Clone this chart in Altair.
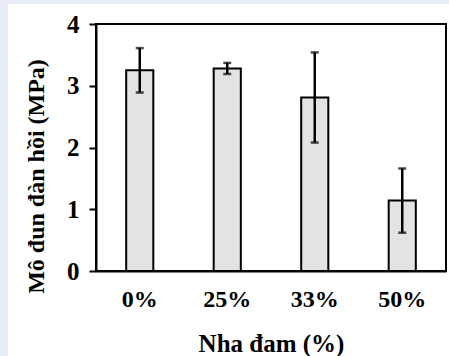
import altair as alt
import pandas as pd
import jinja2

categories = ["0%", "25%", "33%", "50%"]
values = [3.25, 3.28, 2.81, 1.14]
errors = [0.36, 0.09, 0.73, 0.52]

df = pd.DataFrame({"cat": categories, "val": values, "err": errors})

FONT = "Liberation Serif"

x_enc = alt.X(
    "cat:N",
    sort=categories,
    scale=alt.Scale(paddingInner=0.69, paddingOuter=0.345),
    axis=alt.Axis(
        title="Nha đam (%)",
        ticks=False,
        labelPadding=16,
        labelAngle=0,
        labelFont=FONT,
        labelFontSize=24,
        labelFontWeight="bold",
        labelColor="black",
        titleFont=FONT,
        titleFontSize=25,
        titleFontWeight="bold",
        titleColor="black",
        titleY=72,
        titleBaseline="middle",
        domainColor="black",
        domainWidth=2,
    ),
)

y_scale = alt.Scale(domain=[0, 4], nice=False)

base = alt.Chart(df).transform_calculate(
    lo="datum.val - datum.err", hi="datum.val + datum.err"
)

bars = base.mark_bar(fill="#e3e3e3", stroke="black", strokeWidth=2).encode(
    x=x_enc,
    y=alt.Y(
        "val:Q",
        scale=y_scale,
        axis=alt.Axis(
            title="Mô đun đàn hồi (MPa)",
            values=[0, 1, 2, 3, 4],
            format="d",
            grid=False,
            tickSize=7,
            tickWidth=2,
            tickColor="black",
            labelPadding=10,
            labelFont=FONT,
            labelFontSize=25,
            labelFontWeight="bold",
            labelColor="black",
            titleFont=FONT,
            titleFontSize=24,
            titleFontWeight="bold",
            titleColor="black",
            titleAngle=270,
            titleX=-60,
            titleY=152,
            titleAlign="center",
            titleBaseline="middle",
            domainColor="black",
            domainWidth=2,
        ),
    ),
)

rules = base.mark_rule(color="black", strokeWidth=2.5).encode(
    x=alt.X("cat:N", sort=categories),
    y=alt.Y("lo:Q", scale=y_scale),
    y2="hi:Q",
)

caps_hi = base.mark_tick(color="black", thickness=2.5, size=8).encode(
    x=alt.X("cat:N", sort=categories),
    y=alt.Y("hi:Q", scale=y_scale),
)
caps_lo = base.mark_tick(color="black", thickness=2.5, size=8).encode(
    x=alt.X("cat:N", sort=categories),
    y=alt.Y("lo:Q", scale=y_scale),
)

chart = (
    alt.layer(bars, rules, caps_hi, caps_lo)
    .properties(
        width=350,
        height=247,
        autosize=alt.AutoSizeParams(type="none"),
        padding={"left": 88, "top": 20, "right": 3, "bottom": 85},
        background="white",
    )
    .configure_view(stroke="black", strokeWidth=2)
)

page = jinja2.Template("""<!DOCTYPE html>
<html>
<head>
  <meta charset="utf-8">
  <style>
    html, body { background: #e7ebf7; overflow: hidden; }
    body { margin: 4px 0 0 8px; }
  </style>
  <script type="text/javascript" src="{{ base_url }}/vega@{{ vega_version }}"></script>
  <script type="text/javascript" src="{{ base_url }}/vega-lite@{{ vegalite_version }}"></script>
  <script type="text/javascript" src="{{ base_url }}/vega-embed@{{ vegaembed_version }}"></script>
</head>
<body>
  <div id="{{ output_div }}"></div>
  <script type="text/javascript">
    var spec = {{ spec }};
    var embedOpt = {{ embed_options }};
    vegaEmbed("#{{ output_div }}", spec, embedOpt).catch(console.error);
  </script>
</body>
</html>
""")

chart.save(
    "out.html",
    embed_options={"renderer": "svg", "actions": False},
    template=page,
)
